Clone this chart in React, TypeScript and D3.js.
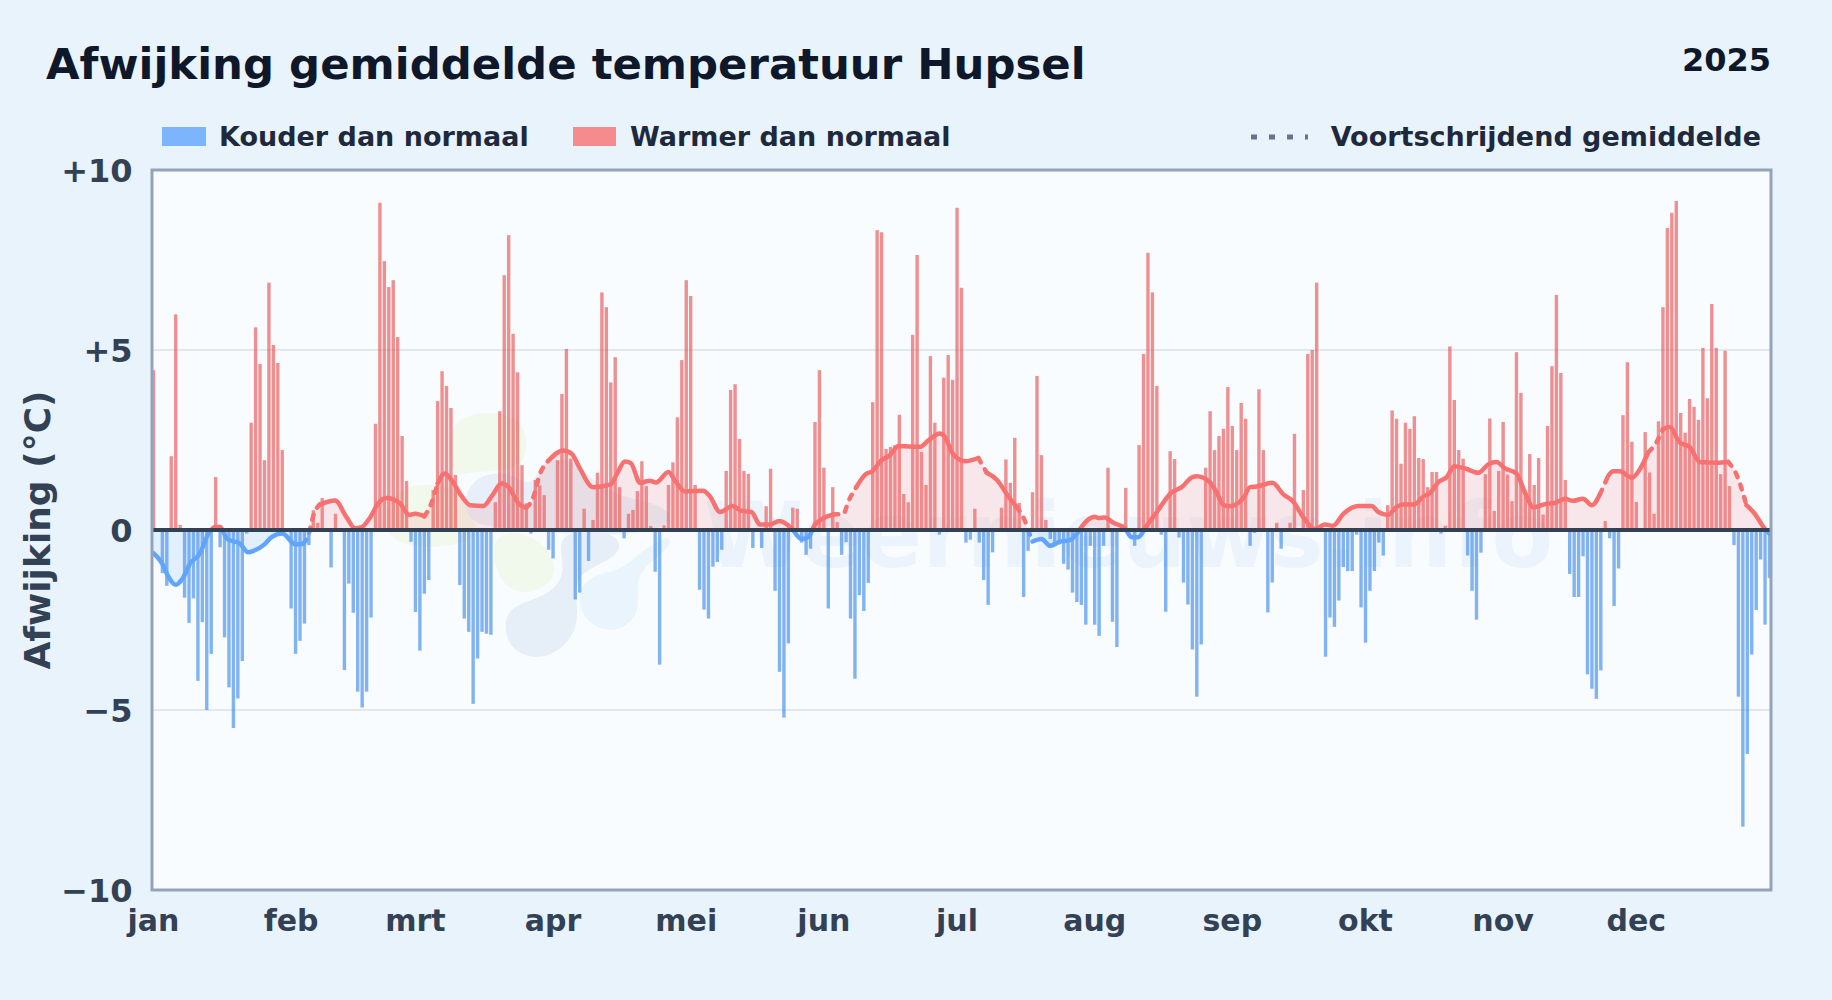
import React from "react";
import * as d3 from "d3";

// daily deviation from normal (deg C), 1 jan - 31 dec 2025
const deviations = [
  4.44, 0, -1.2, -1.55, 2.05, 5.99, 0.14, -1.88, -2.58, -1.9, -4.19, -2.56, -5.0, -3.44, 1.47, -0.48, -2.98, -4.37, -5.5, -4.68,
  -3.64, -0.1, 2.98, 5.63, 4.61, 1.94, 6.87, 5.14, 4.64, 2.22, 0, -2.18, -3.44, -3.08, -2.6, -0.42, 0.55, 0.2, 0.89, 0,
  -1.04, 0.45, 0, -3.89, -1.49, -2.3, -4.49, -4.93, -4.49, -2.43, 2.95, 9.09, 7.47, 6.75, 6.94, 5.36, 2.61, 1.36, -0.33, -2.28,
  -3.35, -1.77, -1.39, 1.11, 3.58, 4.41, 4.0, 3.39, 1.53, -1.53, -2.46, -2.83, -4.83, -3.57, -2.83, -2.88, -2.91, 0.77, 3.3, 7.08,
  8.19, 5.45, 4.38, 1.8, 0.74, -0.1, 1.39, 1.24, 0.97, -0.55, -0.79, 1.94, 3.78, 5.03, 1.98, -1.93, -1.74, 0.59, -0.86, 0.28,
  1.59, 6.6, 6.19, 4.1, 4.8, 1.19, -0.23, 0.45, 0.56, 1.08, 1.91, 1.22, 0.11, -1.16, -3.74, 0.13, 1.25, 1.88, 3.13, 4.72,
  6.94, 6.5, 1.25, -1.66, -2.21, -2.46, -1.02, -0.89, -0.55, 1.64, 3.89, 4.05, 2.53, 1.64, 1.56, -0.5, 0, -0.5, 0.66, 1.7,
  -1.69, -3.94, -5.21, -3.15, 0.62, 0.59, -0.35, -0.69, -0.52, 3.0, 4.44, 1.73, -2.18, 1.19, 0.22, -0.69, -0.34, -2.46, -4.13, -1.81,
  -2.25, -1.47, 3.55, 8.33, 8.27, 2.25, 2.31, 2.36, 3.2, 1.0, 0.77, 5.42, 7.64, 2.17, 1.25, 4.83, 2.98, -0.13, 4.23, 4.86,
  4.17, 8.95, 6.73, -0.35, -0.27, 0.59, -0.35, -1.39, -2.08, -0.62, 0, 0.62, 1.96, 1.31, 2.56, 0.75, -1.86, -0.58, 1.05, 4.28,
  2.08, 0.28, -0.25, -0.4, -0.4, -0.94, -1.1, -1.74, -2.0, -2.08, -2.63, -0.44, -2.63, -2.94, -0.44, 1.73, -2.55, -3.25, 0, 1.17,
  0, -0.44, 2.36, 4.89, 7.7, 6.6, 4.0, -0.13, -2.27, 2.19, 1.97, -0.21, -1.46, -2.07, -3.32, -4.63, -3.18, 1.73, 3.3, 2.22,
  2.61, 2.81, 3.97, 2.89, 2.22, 3.53, 3.09, -0.44, -0.08, 3.91, 2.22, -2.29, -1.46, 0.2, -0.52, -0.05, 0.2, 2.67, 0, 1.11,
  4.89, 5.0, 6.87, 0, -3.52, -2.43, -2.69, -1.96, -1.03, -1.14, -1.14, -0.13, -2.15, -3.13, -1.69, -1.14, -0.35, -0.71, 0.69, 3.32,
  3.09, 1.84, 2.98, 2.81, 3.16, 2.0, 1.97, 1.19, 1.61, 1.61, -0.1, 0.12, 5.1, 3.61, 2.22, 1.98, -0.71, -1.69, -2.49, -0.63,
  1.55, 3.1, 0.53, 1.64, 3.0, 1.54, 0.8, 4.94, 3.81, 1.05, 2.11, 1.25, 2.0, 0.43, 2.89, 4.55, 6.53, 4.36, 1.39, -1.22,
  -1.86, -1.86, -0.73, -4.01, -4.41, -4.69, -3.9, 0.25, -0.23, -2.11, -1.07, 3.19, 4.66, 2.45, 0.78, 0, 2.72, 1.6, 0.45, 3.02,
  6.19, 8.39, 8.81, 9.14, 3.25, 2.7, 3.64, 3.42, 3.06, 5.06, 3.66, 6.28, 5.06, 1.55, 4.98, 1.22, -0.42, -4.63, -8.24, -6.22,
  -3.46, -2.22, -0.82, -2.63, -1.33,
];

// running mean at its bends
const avgDays = [
  0, 2, 3.3, 5, 6.6, 8.2, 10.5, 12.3, 13.9, 15, 16.6, 19.5, 21.3, 22.5, 25, 26.6, 29, 32, 33.7, 35, 36, 37.5, 40.9, 43.5, 45.4,
  46.9, 48.8, 50.6, 52.5, 55.5, 57.6, 58.9, 61, 62.6, 64, 65.6, 67, 69.4, 71.3, 74.3, 76.2, 78.4, 80, 82.2, 83.9, 85.5, 87, 89, 92.3, 94.2,
  96, 99, 103, 104.3, 106.2, 107.5, 109.6, 111.8, 113.2, 116, 117.5, 119.7, 123.8, 125.3, 127.6, 130.4, 132.5, 134.7, 136.6, 138.8, 141, 143.7, 145.9, 147.5, 149,
  153.1, 155.4, 156.5, 158.3, 160.3, 162, 163.9, 165.9, 167.8, 172.6, 174.5, 177.1, 178.3, 180, 182.8, 185.8, 187.7, 190, 192.5, 194.4, 196.3, 197.4, 198, 200, 202,
  204, 206.4, 208, 209, 210.9, 212, 212.8, 214.3, 216.2, 218.8, 220.3, 221.8, 223.7, 226, 229.3, 231.6, 234, 235, 238, 239.5, 241, 242.4, 245.5, 247, 248.5,
  252, 254.5, 256.7, 259, 261.6, 263.8, 265.7, 268, 271.4, 274.4, 275.9, 278.1, 280, 281.5, 284, 286, 287.5, 289.4, 291.3, 293, 295.4, 298.4, 300.7, 302.5, 304.4,
  307, 308.9, 310.8, 313.8, 315.6, 317.9, 319.7, 322, 324, 325.8, 327.7, 328.8, 330.3, 333, 334.9, 336.7, 338.5, 340, 341.5, 343.8, 346, 348.3, 352, 354.7, 356.6,
  358.8, 360.7, 363, 364,
];
const avgValues = [
  -0.64, -0.94, -1.29, -1.52, -1.34, -0.94, -0.64, -0.12, 0.08, 0.08, -0.25, -0.38, -0.62, -0.58, -0.4, -0.2, -0.1, -0.4, -0.38, -0.1, 0.4, 0.71, 0.82, 0.35, 0.05,
  0.08, 0.35, 0.74, 0.89, 0.74, 0.42, 0.45, 0.38, 0.74, 1.29, 1.57, 1.41, 0.94, 0.69, 0.67, 0.94, 1.29, 1.19, 0.74, 0.62, 0.89, 1.54, 1.93, 2.21, 2.12,
  1.72, 1.19, 1.27, 1.54, 1.9, 1.86, 1.31, 1.37, 1.32, 1.61, 1.37, 1.07, 1.09, 0.94, 0.5, 0.67, 0.53, 0.5, 0.15, 0.15, 0.25, 0.05, -0.25, -0.2, 0.15,
  0.43, 0.45, 0.79, 1.19, 1.54, 1.64, 1.93, 2.08, 2.33, 2.31, 2.48, 2.68, 2.58, 2.13, 1.91, 2.0, 1.59, 1.39, 0.94, 0.64, 0.25, -0.13, -0.32, -0.25, -0.44,
  -0.33, -0.28, -0.1, 0.08, 0.32, 0.37, 0.33, 0.35, 0.2, 0.05, -0.2, -0.2, 0.12, 0.5, 1.04, 1.19, 1.47, 1.49, 1.32, 1.04, 0.69, 0.66, 0.89, 1.19, 1.21,
  1.31, 0.99, 0.79, 0.35, 0.03, 0.15, 0.12, 0.45, 0.67, 0.67, 0.5, 0.42, 0.64, 0.71, 0.71, 0.93, 1.02, 1.33, 1.47, 1.77, 1.71, 1.59, 1.83, 1.89, 1.71,
  1.57, 1.05, 0.63, 0.73, 0.75, 0.87, 0.81, 0.87, 0.69, 0.99, 1.51, 1.63, 1.63, 1.45, 1.71, 2.16, 2.43, 2.8, 2.86, 2.43, 2.31, 1.89, 1.87, 1.89, 1.53,
  0.69, 0.45, 0.02, -0.1,
];

// stretches of the curve that come out broken up in the picture
const dashedStretches = [
  [35, 38],
  [62, 65],
  [85, 90],
  [155, 158.5],
  [187, 188.5],
  [196, 198],
  [326, 328],
  [338, 340],
  [355, 359],
];

const monthLabels = ["jan", "feb", "mrt", "apr", "mei", "jun", "jul", "aug", "sep", "okt", "nov", "dec"];
const monthStarts = [0, 31, 59, 90, 120, 151, 181, 212, 243, 273, 304, 334];
const yTicks = [-10, -5, 0, 5, 10];
const gridTicks = [-5, 5];

// watermark logo outlines, on a 3x grid around the logo
const logoBlobs: { fill: string; pts: [number, number][] }[] = [
  { fill: "#f1f8ec", pts: [[250, 60], [350, 30], [470, 55], [475, 190], [400, 215], [290, 215], [245, 235], [240, 120]] },
  { fill: "#f1f8ec", pts: [[40, 405], [55, 285], [150, 245], [270, 265], [290, 330], [340, 405], [250, 440], [120, 445]] },
  { fill: "#f1f8ec", pts: [[360, 395], [485, 395], [565, 480], [545, 560], [440, 590], [375, 525]] },
  { fill: "#e7f0f9", pts: [[275, 300], [320, 222], [425, 215], [485, 270], [515, 180], [605, 172], [675, 250], [760, 295], [905, 315], [905, 405], [560, 405], [420, 380], [305, 380]] },
  { fill: "#e6eff8", pts: [[400, 690], [415, 615], [540, 590], [595, 510], [545, 390], [745, 390], [760, 465], [640, 510], [610, 560], [635, 695], [530, 785], [430, 760]] },
  { fill: "#e9f4fd", pts: [[622, 595], [645, 530], [760, 510], [800, 465], [905, 395], [905, 445], [785, 520], [820, 635], [740, 705], [645, 670]] },
];

const WIDTH = 1832;
const HEIGHT = 1000;
const margin = { top: 170, right: 61, bottom: 110, left: 152 };
const FONT = "'DejaVu Sans', sans-serif";

const x = d3.scaleLinear().domain([0, 364]).range([margin.left + 1.5, WIDTH - margin.right - 1.5]);
const y = d3.scaleLinear().domain([-10, 10]).range([HEIGHT - margin.bottom, margin.top]);

const formatTick = (t: number) => (t > 0 ? `+${t}` : t < 0 ? `\u2212${-t}` : "0");

const avgPoints: [number, number][] = avgDays.map((d, i) => [d, avgValues[i]]);
const avgLine = d3.line<[number, number]>().x((d) => x(d[0])).y((d) => y(d[1])).curve(d3.curveMonotoneX);
const avgArea = d3.area<[number, number]>().x((d) => x(d[0])).y0(y(0)).y1((d) => y(d[1])).curve(d3.curveMonotoneX);

// split the curve in solid and dashed runs that share their end points
function splitRuns() {
  const runs: { dashed: boolean; pts: [number, number][] }[] = [];
  avgPoints.forEach((p, i) => {
    const dashed = dashedStretches.some(([a, b]) => p[0] >= a && p[0] <= b);
    const last = runs[runs.length - 1];
    if (last && last.dashed === dashed) {
      last.pts.push(p);
    } else {
      const start = i > 0 ? [avgPoints[i - 1]] : [];
      runs.push({ dashed, pts: [...start, p] });
    }
  });
  return runs;
}

const plotW = WIDTH - margin.left - margin.right;
const plotH = HEIGHT - margin.top - margin.bottom;

const blob = d3.line().curve(d3.curveBasisClosed);

export default function App() {
  const runs = splitRuns();
  const zero = y(0);
  return (
    <svg
      width={WIDTH}
      height={HEIGHT}
      style={{ position: "absolute", left: 0, top: 0, display: "block" }}
      fontFamily={FONT}
      fontWeight={700}
    >
      <defs>
        <clipPath id="plot">
          <rect x={margin.left} y={margin.top} width={plotW} height={plotH} />
        </clipPath>
        <clipPath id="above">
          <rect x={margin.left} y={margin.top} width={plotW} height={zero - margin.top} />
        </clipPath>
        <clipPath id="below">
          <rect x={margin.left} y={zero} width={plotW} height={HEIGHT - margin.bottom - zero} />
        </clipPath>
      </defs>

      <rect width={WIDTH} height={HEIGHT} fill="#e9f3fc" />

      <text x={46} y={79} fontSize={43.4} fill="#0f172a">
        Afwijking gemiddelde temperatuur Hupsel
      </text>
      <text x={1771} y={71} fontSize={32} fill="#0f172a" textAnchor="end">
        2025
      </text>

      {/* legend */}
      <rect x={162} y={127} width={44} height={19} fill="rgba(96,165,250,0.8)" />
      <text x={219} y={146} fontSize={27} fill="#1e293b">
        Kouder dan normaal
      </text>
      <rect x={573} y={127} width={43} height={19} fill="rgba(248,113,113,0.8)" />
      <text x={630} y={146} fontSize={27} fill="#1e293b">
        Warmer dan normaal
      </text>
      <line x1={1251} x2={1308} y1={137} y2={137} stroke="#64748b" strokeWidth={5} strokeDasharray="6 12" />
      <text x={1761} y={146} fontSize={27} fill="#1e293b" textAnchor="end">
        Voortschrijdend gemiddelde
      </text>

      <rect x={margin.left} y={margin.top} width={plotW} height={plotH} fill="#f8fcff" />

      {/* faint logo and site name behind the bars */}
      <g clipPath="url(#plot)">
        <g transform="translate(370,400) scale(0.3333)">
          {logoBlobs.map((b, i) => (
            <path key={i} d={blob(b.pts)!} fill={b.fill} />
          ))}
        </g>
        <text x={704} y={567} fontSize={90} fill="#ebf4fc">
          Weernieuws.info
        </text>
      </g>

      {/* grid */}
      {gridTicks.map((t) => (
        <line key={t} x1={margin.left} x2={WIDTH - margin.right} y1={y(t)} y2={y(t)} stroke="#e2e8f0" strokeWidth={2} />
      ))}

      {/* daily bars */}
      <g clipPath="url(#plot)">
        {deviations.map((v, i) =>
          v === 0 ? null : (
            <rect
              key={i}
              x={x(i) - 1.7}
              width={3.4}
              y={v > 0 ? y(v) : zero}
              height={Math.abs(y(v) - zero)}
              fill={v > 0 ? "rgba(232,72,72,0.6)" : "rgba(56,134,232,0.62)"}
            />
          ),
        )}
      </g>

      {/* running mean */}
      <path d={avgArea(avgPoints)!} fill="rgba(248,113,113,0.15)" clipPath="url(#above)" />
      <path d={avgArea(avgPoints)!} fill="rgba(96,165,250,0.15)" clipPath="url(#below)" />
      {runs.map((r, i) => (
        <g key={i}>
          <path
            d={avgLine(r.pts)!}
            fill="none"
            stroke="#f87171"
            strokeWidth={4.5}
            strokeLinejoin="round"
            strokeLinecap="round"
            strokeDasharray={r.dashed ? "5 8" : undefined}
            clipPath="url(#above)"
          />
          <path
            d={avgLine(r.pts)!}
            fill="none"
            stroke="#60a5fa"
            strokeWidth={4.5}
            strokeLinejoin="round"
            strokeLinecap="round"
            strokeDasharray={r.dashed ? "5 8" : undefined}
            clipPath="url(#below)"
          />
        </g>
      ))}

      <line x1={margin.left} x2={WIDTH - margin.right} y1={zero} y2={zero} stroke="#334155" strokeWidth={4} />
      <rect x={margin.left} y={margin.top} width={plotW} height={plotH} fill="none" stroke="#94a3b8" strokeWidth={3} />

      {/* axes */}
      {yTicks.map((t) => (
        <text key={t} x={132.5} y={y(t)} dy="0.36em" fontSize={32} fill="#334155" textAnchor="end">
          {formatTick(t)}
        </text>
      ))}
      {monthLabels.map((m, i) => (
        <text key={m} x={x(monthStarts[i])} y={931} fontSize={30} fill="#334155" textAnchor="middle">
          {m}
        </text>
      ))}
      <text transform={`translate(50,530) rotate(-90)`} fontSize={36} fill="#334155" textAnchor="middle">
        Afwijking (°C)
      </text>
    </svg>
  );
}
